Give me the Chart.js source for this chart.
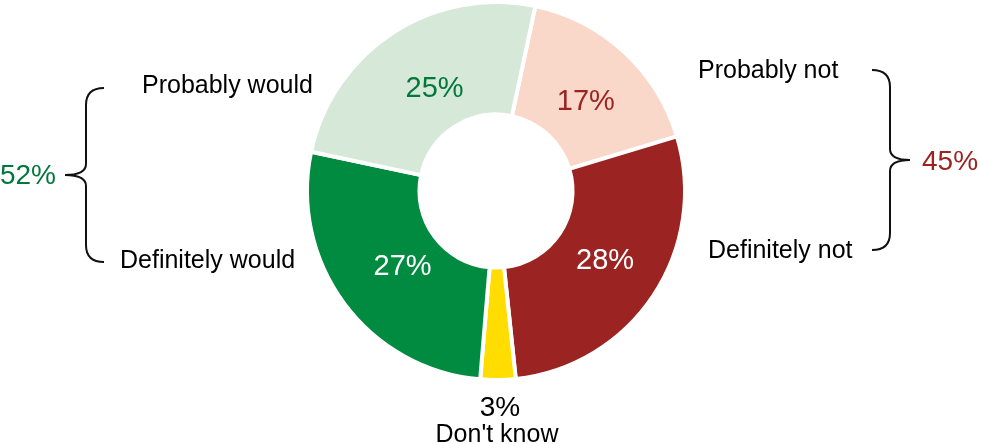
<!DOCTYPE html>
<html lang="en">
<head>
<meta charset="utf-8">
<title>Would / would not</title>
<script src="https://cdn.jsdelivr.net/npm/chart.js@4/dist/chart.umd.min.js"></script>
<style>
    html, body { margin: 0; padding: 0; background: #ffffff; }
    #wrap { width: 981px; height: 444px; }
</style>
</head>
<body>
<div id="wrap"><canvas id="answer-chart" width="981" height="444"></canvas></div>
<script>
/****************************************************************
 * Doughnut of answers, with the two groups summed at the sides
 ***************************************************************/

// Slices, clockwise from the top
const categories = ['Probably not', 'Definitely not', "Don't know", 'Definitely would', 'Probably would'];
const values = [17, 28, 3, 27, 25];
const slice_colors = ['#f9d8ca', '#9b2321', '#ffdd00', '#008b41', '#d6e8d8'];
const label_colors = ['#9b2321', '#ffffff', '#000000', '#ffffff', '#00783c'];

// Groups shown with a brace
const group_no = ['Probably not', 'Definitely not'];
const group_yes = ['Probably would', 'Definitely would'];

const FONT = '"Liberation Sans", Arial, sans-serif';

/**
 * Sum the values of the named categories
 *
 * @param {Array} names
 */
function group_sum(names) {
    return names.reduce((acc, name) => acc + values[categories.indexOf(name)], 0);
}

/**
 * Draw a curly brace opening to one side
 *
 * @param {object} ctx
 * @param {number} x_end   x of the two ends
 * @param {number} x_bar   x of the straight part
 * @param {number} x_tip   x of the middle point
 * @param {number} y_top
 * @param {number} y_bot
 */
function draw_brace(ctx, x_end, x_bar, x_tip, y_top, y_bot) {
    let y_mid = (y_top + y_bot) / 2;
    let r = 17;

    ctx.save();
    ctx.strokeStyle = '#111111';
    ctx.lineWidth = 2;
    ctx.beginPath();
    ctx.moveTo(x_end, y_top);
    ctx.quadraticCurveTo(x_bar, y_top, x_bar, y_top + r);
    ctx.lineTo(x_bar, y_mid - 11);
    ctx.quadraticCurveTo(x_bar, y_mid, x_tip, y_mid);
    ctx.quadraticCurveTo(x_bar, y_mid, x_bar, y_mid + 11);
    ctx.lineTo(x_bar, y_bot - r);
    ctx.quadraticCurveTo(x_bar, y_bot, x_end, y_bot);
    ctx.stroke();
    ctx.restore();
}

/**
 * Percent labels on the slices
 */
const slice_labels = {
    id: 'slice_labels',
    afterDatasetsDraw(chart) {
        const ctx = chart.ctx;
        const meta = chart.getDatasetMeta(0);

        ctx.save();
        ctx.textAlign = 'center';
        ctx.textBaseline = 'alphabetic';

        meta.data.forEach((arc, i) => {
            const p = arc.getProps(['x', 'y', 'startAngle', 'endAngle', 'innerRadius', 'outerRadius'], true);
            const mid = (p.startAngle + p.endAngle) / 2;
            const text = values[i] + '%';

            ctx.fillStyle = label_colors[i];

            if (values[i] < 5) {
                // too thin, put it under the ring
                ctx.font = '28px ' + FONT;
                ctx.fillText(text, p.x + 4, p.y + p.outerRadius + 36);
                ctx.font = '25px ' + FONT;
                ctx.fillText(categories[i], p.x + 1, p.y + p.outerRadius + 62);
                return;
            }

            const r = p.innerRadius + (p.outerRadius - p.innerRadius) * 0.42;
            ctx.font = '29px ' + FONT;
            ctx.fillText(text, p.x + 6 + Math.cos(mid) * r, p.y + Math.sin(mid) * r + 10);
        });

        ctx.restore();
    }
};

/**
 * Category names and braces with the totals
 */
const side_groups = {
    id: 'side_groups',
    afterDraw(chart) {
        const ctx = chart.ctx;

        ctx.save();
        ctx.fillStyle = '#000000';
        ctx.font = '25px ' + FONT;
        ctx.textAlign = 'left';
        ctx.textBaseline = 'alphabetic';

        ctx.fillText(group_yes[0], 142, 93);
        ctx.fillText(group_yes[1], 120, 268);
        ctx.fillText(group_no[0], 698, 78);
        ctx.fillText(group_no[1], 708, 258);

        draw_brace(ctx, 104, 86, 65, 88, 262);
        draw_brace(ctx, 872, 890, 910, 70, 250);

        ctx.font = '28px ' + FONT;
        ctx.fillStyle = '#00783c';
        ctx.textAlign = 'right';
        ctx.fillText(group_sum(group_yes) + '%', 56, 184);

        ctx.fillStyle = '#9b2321';
        ctx.textAlign = 'left';
        ctx.fillText(group_sum(group_no) + '%', 922, 170);

        ctx.restore();
    }
};

new Chart(document.getElementById('answer-chart').getContext('2d'), {
    type: 'doughnut',
    data: {
        labels: categories,
        datasets: [
            {
                data: values,
                backgroundColor: slice_colors,
                borderColor: '#ffffff',
                borderWidth: 4,
                hoverOffset: 0
            }
        ]
    },
    options: {
        responsive: false,
        animation: false,
        rotation: 12,
        cutout: '40.5%',
        layout: {
            padding: { left: 11, right: 0, top: 0, bottom: 62 }
        },
        plugins: {
            legend: { display: false },
            tooltip: { enabled: false }
        }
    },
    plugins: [slice_labels, side_groups]
});
</script>
</body>
</html>
